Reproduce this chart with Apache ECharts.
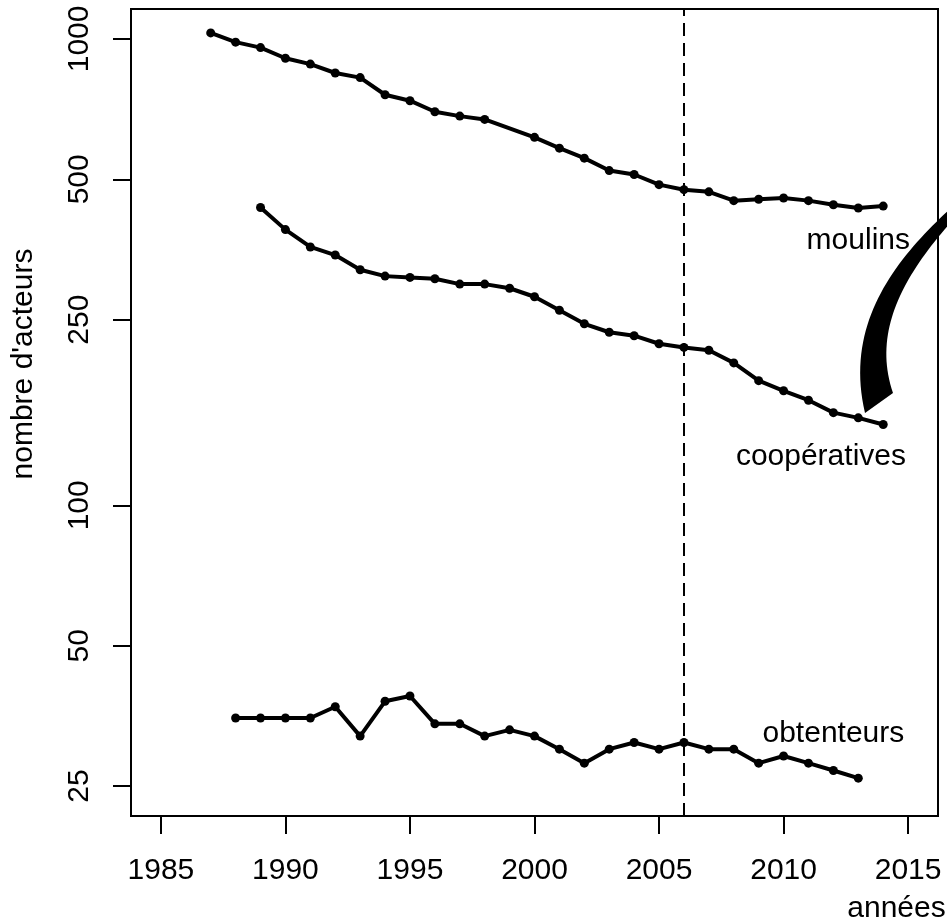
<!DOCTYPE html>
<html><head><meta charset="utf-8">
<script src="https://cdn.jsdelivr.net/npm/echarts@6/dist/echarts.min.js"></script>
<style>html,body{margin:0;padding:0;background:#fff}#c{width:947px;height:923px}</style>
</head><body><div id="c"></div>
<script>
// ---- data ----
const moulinsYears = [1987,1988,1989,1990,1991,1992,1993,1994,1995,1996,1997,1998,2000,2001,2002,2003,2004,2005,2006,2007,2008,2009,2010,2011,2012,2013,2014];
const moulins = [1030,984,958,909,883,845,826,759,737,698,683,672,615,583,555,522,512,487,475,470,450,453,456,450,441,434,438];
const coopYears = [1989,1990,1991,1992,1993,1994,1995,1996,1997,1998,1999,2000,2001,2002,2003,2004,2005,2006,2007,2008,2009,2010,2011,2012,2013,2014];
const cooperatives = [435,390,358,344,320,310,308,306,298,298,292,280,262,245,235,231,222,218,215,202,185,176,168,158,154,149];
const obtYears = [1988,1989,1990,1991,1992,1993,1994,1995,1996,1997,1998,1999,2000,2001,2002,2003,2004,2005,2006,2007,2008,2009,2010,2011,2012,2013];
const obtenteurs = [35,35,35,35,37,32,38,39,34,34,32,33,32,30,28,30,31,30,31,30,30,28,29,28,27,26];
const xTicks = [1985,1990,1995,2000,2005,2010,2015];
const yTicks = [25,50,100,250,500,1000];
const refYear = 2006;
const seriesLabels = [
  {name:'moulins', coord:[2013, 370]},
  {name:'coopératives', coord:[2011.5, 127]},
  {name:'obtenteurs', coord:[2012, 32.4]}
];
// ---- ranges (R style 4% extension of xlim 1985-2015, ylim 25-1000 on log) ----
const xMin = 1983.8, xMax = 2016.2;
const yMin = Math.pow(10, Math.log10(25) - 0.04*(Math.log10(1000)-Math.log10(25)));
const yMax = Math.pow(10, Math.log10(1000) + 0.04*(Math.log10(1000)-Math.log10(25)));
const FONT = '"Liberation Sans", Arial, sans-serif';

function zip(xs, ys){ return xs.map((x,i)=>[x, ys[i]]); }
function lineSeries(name, xs, ys, lbl){
  const s = {
    name, type:'line', xAxisIndex:0, yAxisIndex:0,
    data: zip(xs, ys),
    lineStyle:{color:'#000', width:4},
    itemStyle:{color:'#000'},
    symbol:'circle', symbolSize:9, showSymbol:true
  };
  if (lbl) s.markPoint = {
    symbol:'circle', symbolSize:1, silent:true,
    itemStyle:{color:'rgba(0,0,0,0)'},
    label:{show:true, position:'inside', formatter:lbl.name, color:'#000', fontSize:30, fontFamily:FONT},
    data:[{coord:lbl.coord}]
  };
  return s;
}
// decorative curved arrow shape (sampled cubic curves)
function cubic(p0,p1,p2,p3,n){
  const out=[];
  for(let i=0;i<=n;i++){const t=i/n,u=1-t;
    out.push([u*u*u*p0[0]+3*u*u*t*p1[0]+3*u*t*t*p2[0]+t*t*t*p3[0], u*u*u*p0[1]+3*u*u*t*p1[1]+3*u*t*t*p2[1]+t*t*t*p3[1]]);}
  return out;
}
const arrowPts = cubic([952,207],[900,255],[843,320],[865,413],40).concat(cubic([893,393],[872,332],[903,276],[952,221],40));

const chart = echarts.init(document.getElementById('c'), null, {renderer:'canvas'});
const option = {
  animation:false,
  backgroundColor:'#fff',
  grid:{left:131, right:9, top:9, bottom:107, show:true, borderColor:'#000', borderWidth:2, backgroundColor:'transparent'},
  xAxis:[{
    type:'value', min:xMin, max:xMax,
    axisLine:{show:false},
    splitLine:{show:false},
    axisTick:{show:true, inside:false, length:18, lineStyle:{color:'#000', width:2}, customValues:xTicks},
    axisLabel:{show:true, margin:40, fontSize:30, color:'#000', fontFamily:FONT, customValues:xTicks, formatter:v=>String(v)}
  }],
  yAxis:[{
    type:'log', min:yMin, max:yMax, logBase:10,
    axisLine:{show:false}, splitLine:{show:false}, axisTick:{show:false}, axisLabel:{show:false}
  },{
    type:'value', position:'left', min:Math.log10(yMin), max:Math.log10(yMax),
    axisLine:{show:false}, splitLine:{show:false},
    axisTick:{show:true, inside:false, length:18, lineStyle:{color:'#000', width:2}, customValues:yTicks.map(v=>Math.log10(v))},
    axisLabel:{show:true, rotate:90, margin:36, fontSize:30, color:'#000', fontFamily:FONT,
      customValues:yTicks.map(v=>Math.log10(v)), formatter:v=>String(Math.round(Math.pow(10,v)))}
  }],
  series:[
    lineSeries('moulins', moulinsYears, moulins, seriesLabels[0]),
    lineSeries('coopératives', coopYears, cooperatives, seriesLabels[1]),
    lineSeries('obtenteurs', obtYears, obtenteurs, seriesLabels[2]),
    {
      type:'line', data:[], xAxisIndex:0, yAxisIndex:0,
      markLine:{silent:true, symbol:['none','none'], label:{show:false},
        lineStyle:{color:'#000', width:2, type:[13,7]},
        data:[{xAxis:refYear}]}
    }
  ],
  graphic:[
    {type:'polygon', shape:{points:arrowPts}, style:{fill:'#000'}, z:100},
    {type:'text', x:896.5, y:908.8, style:{text:'années', font:'30px '+FONT, fill:'#000', align:'center', verticalAlign:'middle'}},
    {type:'text', x:23.8, y:364, rotation:Math.PI/2, style:{text:"nombre d'acteurs", font:'30px '+FONT, fill:'#000', align:'center', verticalAlign:'middle'}}
  ]
};
chart.setOption(option);
</script>
</body></html>
